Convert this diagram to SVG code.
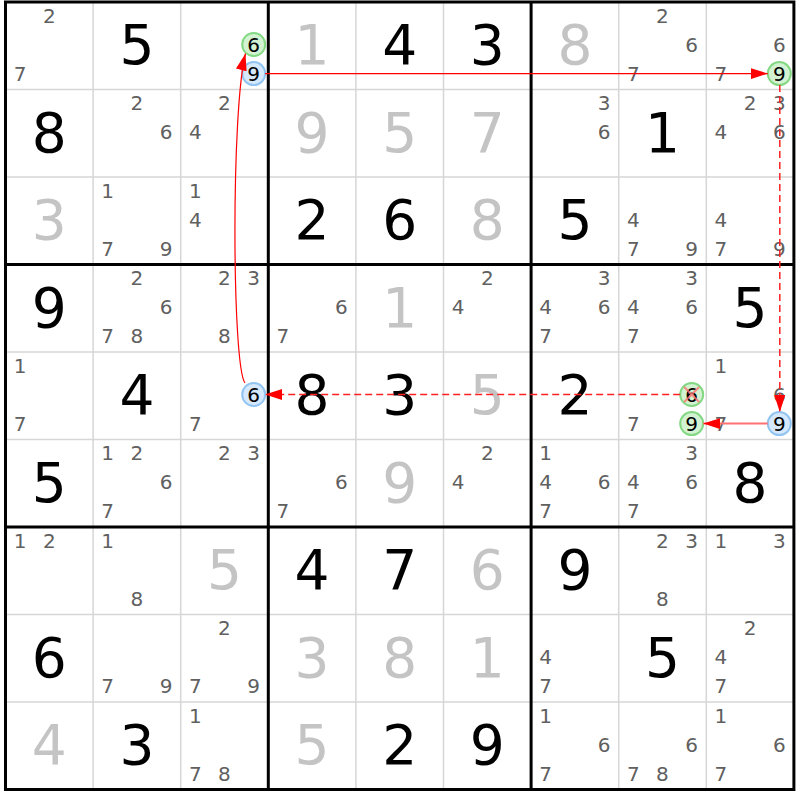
<svg xmlns="http://www.w3.org/2000/svg" width="800" height="800" viewBox="0 0 800 800">
<style>
.c{font-family:"DejaVu Sans",Verdana,sans-serif;font-size:20px;fill:#606060;text-anchor:middle}
.h{font-family:"DejaVu Sans",Verdana,sans-serif;font-size:20px;fill:#000;text-anchor:middle}
.g{font-family:"DejaVu Sans",Verdana,sans-serif;font-size:55px;fill:#000;text-anchor:middle}
.s{font-family:"DejaVu Sans",Verdana,sans-serif;font-size:55px;fill:#c4c4c4;text-anchor:middle}
.gc{fill:#d2f2d2;stroke:#84d884;stroke-width:2}
.bc{fill:#d6e8fb;stroke:#92c4f2;stroke-width:2}
.thin{stroke:#d6d6d6;stroke-width:1.5;fill:none}
.thick{stroke:#000;stroke-width:3;fill:none}
.lk{stroke:#ff0000;stroke-width:1.2;fill:none}
.dl{stroke:#ff2020;stroke-width:1.5;stroke-dasharray:7 4;fill:none}
</style>
<defs>
<marker id="ah" markerWidth="17" markerHeight="11" refX="17" refY="5.5" orient="auto" markerUnits="userSpaceOnUse" viewBox="0 0 17 11"><path d="M0,0L17,5.5L0,11z" fill="#ff0000"/></marker>
</defs>
<rect width="800" height="800" fill="#fff"/>
<g id="grid">
<path class="thin" d="M93.1,2V789.5M180.7,2V789.5M355.9,2V789.5M443.5,2V789.5M618.7,2V789.5M706.3,2V789.5M5.5,89.5H793.9M5.5,177H793.9M5.5,352H793.9M5.5,439.5H793.9M5.5,614.5H793.9M5.5,702H793.9"/>
<path class="thick" d="M268.3,2V789.5M531.1,2V789.5M5.5,264.5H793.9M5.5,527H793.9"/>
<rect class="thick" x="5.5" y="2" width="788.4" height="787.5"/>
</g>
<!-- Row 1 -->
<g id="r1c1" transform="translate(5.5,2)"><text class="c" x="43.8" y="20.6">2</text><text class="c" x="14.6" y="78.9">7</text></g>
<g id="r1c2" transform="translate(93.1,2)"><text class="g" x="43.8" y="62">5</text></g>
<g id="r1c3" transform="translate(180.7,2)"><circle class="gc" cx="73" cy="42.5" r="11.5"/><text class="h" x="73" y="49.75">6</text><circle class="bc" cx="73" cy="71.6" r="11.5"/><text class="h" x="73" y="78.9">9</text></g>
<g id="r1c4" transform="translate(268.3,2)"><text class="s" x="43.8" y="62">1</text></g>
<g id="r1c5" transform="translate(355.9,2)"><text class="g" x="43.8" y="62">4</text></g>
<g id="r1c6" transform="translate(443.5,2)"><text class="g" x="43.8" y="62">3</text></g>
<g id="r1c7" transform="translate(531.1,2)"><text class="s" x="43.8" y="62">8</text></g>
<g id="r1c8" transform="translate(618.7,2)"><text class="c" x="43.8" y="20.6">2</text><text class="c" x="73" y="49.75">6</text><text class="c" x="14.6" y="78.9">7</text></g>
<g id="r1c9" transform="translate(706.3,2)"><text class="c" x="73" y="49.75">6</text><text class="c" x="14.6" y="78.9">7</text><circle class="gc" cx="73" cy="71.6" r="11.5"/><text class="h" x="73" y="78.9">9</text></g>
<!-- Row 2 -->
<g id="r2c1" transform="translate(5.5,89.5)"><text class="g" x="43.8" y="62">8</text></g>
<g id="r2c2" transform="translate(93.1,89.5)"><text class="c" x="43.8" y="20.6">2</text><text class="c" x="73" y="49.75">6</text></g>
<g id="r2c3" transform="translate(180.7,89.5)"><text class="c" x="43.8" y="20.6">2</text><text class="c" x="14.6" y="49.75">4</text></g>
<g id="r2c4" transform="translate(268.3,89.5)"><text class="s" x="43.8" y="62">9</text></g>
<g id="r2c5" transform="translate(355.9,89.5)"><text class="s" x="43.8" y="62">5</text></g>
<g id="r2c6" transform="translate(443.5,89.5)"><text class="s" x="43.8" y="62">7</text></g>
<g id="r2c7" transform="translate(531.1,89.5)"><text class="c" x="73" y="20.6">3</text><text class="c" x="73" y="49.75">6</text></g>
<g id="r2c8" transform="translate(618.7,89.5)"><text class="g" x="43.8" y="62">1</text></g>
<g id="r2c9" transform="translate(706.3,89.5)"><text class="c" x="43.8" y="20.6">2</text><text class="c" x="73" y="20.6">3</text><text class="c" x="14.6" y="49.75">4</text><text class="c" x="73" y="49.75">6</text></g>
<!-- Row 3 -->
<g id="r3c1" transform="translate(5.5,177)"><text class="s" x="43.8" y="62">3</text></g>
<g id="r3c2" transform="translate(93.1,177)"><text class="c" x="14.6" y="20.6">1</text><text class="c" x="14.6" y="78.9">7</text><text class="c" x="73" y="78.9">9</text></g>
<g id="r3c3" transform="translate(180.7,177)"><text class="c" x="14.6" y="20.6">1</text><text class="c" x="14.6" y="49.75">4</text></g>
<g id="r3c4" transform="translate(268.3,177)"><text class="g" x="43.8" y="62">2</text></g>
<g id="r3c5" transform="translate(355.9,177)"><text class="g" x="43.8" y="62">6</text></g>
<g id="r3c6" transform="translate(443.5,177)"><text class="s" x="43.8" y="62">8</text></g>
<g id="r3c7" transform="translate(531.1,177)"><text class="g" x="43.8" y="62">5</text></g>
<g id="r3c8" transform="translate(618.7,177)"><text class="c" x="14.6" y="49.75">4</text><text class="c" x="14.6" y="78.9">7</text><text class="c" x="73" y="78.9">9</text></g>
<g id="r3c9" transform="translate(706.3,177)"><text class="c" x="14.6" y="49.75">4</text><text class="c" x="14.6" y="78.9">7</text><text class="c" x="73" y="78.9">9</text></g>
<!-- Row 4 -->
<g id="r4c1" transform="translate(5.5,264.5)"><text class="g" x="43.8" y="62">9</text></g>
<g id="r4c2" transform="translate(93.1,264.5)"><text class="c" x="43.8" y="20.6">2</text><text class="c" x="73" y="49.75">6</text><text class="c" x="14.6" y="78.9">7</text><text class="c" x="43.8" y="78.9">8</text></g>
<g id="r4c3" transform="translate(180.7,264.5)"><text class="c" x="43.8" y="20.6">2</text><text class="c" x="73" y="20.6">3</text><text class="c" x="43.8" y="78.9">8</text></g>
<g id="r4c4" transform="translate(268.3,264.5)"><text class="c" x="73" y="49.75">6</text><text class="c" x="14.6" y="78.9">7</text></g>
<g id="r4c5" transform="translate(355.9,264.5)"><text class="s" x="43.8" y="62">1</text></g>
<g id="r4c6" transform="translate(443.5,264.5)"><text class="c" x="43.8" y="20.6">2</text><text class="c" x="14.6" y="49.75">4</text></g>
<g id="r4c7" transform="translate(531.1,264.5)"><text class="c" x="73" y="20.6">3</text><text class="c" x="14.6" y="49.75">4</text><text class="c" x="73" y="49.75">6</text><text class="c" x="14.6" y="78.9">7</text></g>
<g id="r4c8" transform="translate(618.7,264.5)"><text class="c" x="73" y="20.6">3</text><text class="c" x="14.6" y="49.75">4</text><text class="c" x="73" y="49.75">6</text><text class="c" x="14.6" y="78.9">7</text></g>
<g id="r4c9" transform="translate(706.3,264.5)"><text class="g" x="43.8" y="62">5</text></g>
<!-- Row 5 -->
<g id="r5c1" transform="translate(5.5,352)"><text class="c" x="14.6" y="20.6">1</text><text class="c" x="14.6" y="78.9">7</text></g>
<g id="r5c2" transform="translate(93.1,352)"><text class="g" x="43.8" y="62">4</text></g>
<g id="r5c3" transform="translate(180.7,352)"><circle class="bc" cx="73" cy="42.5" r="11.5"/><text class="h" x="73" y="49.75">6</text><text class="c" x="14.6" y="78.9">7</text></g>
<g id="r5c4" transform="translate(268.3,352)"><text class="g" x="43.8" y="62">8</text></g>
<g id="r5c5" transform="translate(355.9,352)"><text class="g" x="43.8" y="62">3</text></g>
<g id="r5c6" transform="translate(443.5,352)"><text class="s" x="43.8" y="62">5</text></g>
<g id="r5c7" transform="translate(531.1,352)"><text class="g" x="43.8" y="62">2</text></g>
<g id="r5c8" transform="translate(618.7,352)"><circle class="gc" cx="73" cy="42.5" r="11.5"/><text class="h" x="73" y="49.75">6</text><path d="M65.5,35L80.5,50M80.5,35L65.5,50" stroke="#ff7070" stroke-width="2" opacity="0.8"/><text class="c" x="14.6" y="78.9">7</text><circle class="gc" cx="73" cy="71.6" r="11.5"/><text class="h" x="73" y="78.9">9</text></g>
<g id="r5c9" transform="translate(706.3,352)"><text class="c" x="14.6" y="20.6">1</text><text class="c" x="73" y="49.75">6</text><text class="c" x="14.6" y="78.9">7</text><circle class="bc" cx="73" cy="71.6" r="11.5"/><text class="h" x="73" y="78.9">9</text></g>
<!-- Row 6 -->
<g id="r6c1" transform="translate(5.5,439.5)"><text class="g" x="43.8" y="62">5</text></g>
<g id="r6c2" transform="translate(93.1,439.5)"><text class="c" x="14.6" y="20.6">1</text><text class="c" x="43.8" y="20.6">2</text><text class="c" x="73" y="49.75">6</text><text class="c" x="14.6" y="78.9">7</text></g>
<g id="r6c3" transform="translate(180.7,439.5)"><text class="c" x="43.8" y="20.6">2</text><text class="c" x="73" y="20.6">3</text></g>
<g id="r6c4" transform="translate(268.3,439.5)"><text class="c" x="73" y="49.75">6</text><text class="c" x="14.6" y="78.9">7</text></g>
<g id="r6c5" transform="translate(355.9,439.5)"><text class="s" x="43.8" y="62">9</text></g>
<g id="r6c6" transform="translate(443.5,439.5)"><text class="c" x="43.8" y="20.6">2</text><text class="c" x="14.6" y="49.75">4</text></g>
<g id="r6c7" transform="translate(531.1,439.5)"><text class="c" x="14.6" y="20.6">1</text><text class="c" x="14.6" y="49.75">4</text><text class="c" x="73" y="49.75">6</text><text class="c" x="14.6" y="78.9">7</text></g>
<g id="r6c8" transform="translate(618.7,439.5)"><text class="c" x="73" y="20.6">3</text><text class="c" x="14.6" y="49.75">4</text><text class="c" x="73" y="49.75">6</text><text class="c" x="14.6" y="78.9">7</text></g>
<g id="r6c9" transform="translate(706.3,439.5)"><text class="g" x="43.8" y="62">8</text></g>
<!-- Row 7 -->
<g id="r7c1" transform="translate(5.5,527)"><text class="c" x="14.6" y="20.6">1</text><text class="c" x="43.8" y="20.6">2</text></g>
<g id="r7c2" transform="translate(93.1,527)"><text class="c" x="14.6" y="20.6">1</text><text class="c" x="43.8" y="78.9">8</text></g>
<g id="r7c3" transform="translate(180.7,527)"><text class="s" x="43.8" y="62">5</text></g>
<g id="r7c4" transform="translate(268.3,527)"><text class="g" x="43.8" y="62">4</text></g>
<g id="r7c5" transform="translate(355.9,527)"><text class="g" x="43.8" y="62">7</text></g>
<g id="r7c6" transform="translate(443.5,527)"><text class="s" x="43.8" y="62">6</text></g>
<g id="r7c7" transform="translate(531.1,527)"><text class="g" x="43.8" y="62">9</text></g>
<g id="r7c8" transform="translate(618.7,527)"><text class="c" x="43.8" y="20.6">2</text><text class="c" x="73" y="20.6">3</text><text class="c" x="43.8" y="78.9">8</text></g>
<g id="r7c9" transform="translate(706.3,527)"><text class="c" x="14.6" y="20.6">1</text><text class="c" x="73" y="20.6">3</text></g>
<!-- Row 8 -->
<g id="r8c1" transform="translate(5.5,614.5)"><text class="g" x="43.8" y="62">6</text></g>
<g id="r8c2" transform="translate(93.1,614.5)"><text class="c" x="14.6" y="78.9">7</text><text class="c" x="73" y="78.9">9</text></g>
<g id="r8c3" transform="translate(180.7,614.5)"><text class="c" x="43.8" y="20.6">2</text><text class="c" x="14.6" y="78.9">7</text><text class="c" x="73" y="78.9">9</text></g>
<g id="r8c4" transform="translate(268.3,614.5)"><text class="s" x="43.8" y="62">3</text></g>
<g id="r8c5" transform="translate(355.9,614.5)"><text class="s" x="43.8" y="62">8</text></g>
<g id="r8c6" transform="translate(443.5,614.5)"><text class="s" x="43.8" y="62">1</text></g>
<g id="r8c7" transform="translate(531.1,614.5)"><text class="c" x="14.6" y="49.75">4</text><text class="c" x="14.6" y="78.9">7</text></g>
<g id="r8c8" transform="translate(618.7,614.5)"><text class="g" x="43.8" y="62">5</text></g>
<g id="r8c9" transform="translate(706.3,614.5)"><text class="c" x="43.8" y="20.6">2</text><text class="c" x="14.6" y="49.75">4</text><text class="c" x="14.6" y="78.9">7</text></g>
<!-- Row 9 -->
<g id="r9c1" transform="translate(5.5,702)"><text class="s" x="43.8" y="62">4</text></g>
<g id="r9c2" transform="translate(93.1,702)"><text class="g" x="43.8" y="62">3</text></g>
<g id="r9c3" transform="translate(180.7,702)"><text class="c" x="14.6" y="20.6">1</text><text class="c" x="14.6" y="78.9">7</text><text class="c" x="43.8" y="78.9">8</text></g>
<g id="r9c4" transform="translate(268.3,702)"><text class="s" x="43.8" y="62">5</text></g>
<g id="r9c5" transform="translate(355.9,702)"><text class="g" x="43.8" y="62">2</text></g>
<g id="r9c6" transform="translate(443.5,702)"><text class="g" x="43.8" y="62">9</text></g>
<g id="r9c7" transform="translate(531.1,702)"><text class="c" x="14.6" y="20.6">1</text><text class="c" x="73" y="49.75">6</text><text class="c" x="14.6" y="78.9">7</text></g>
<g id="r9c8" transform="translate(618.7,702)"><text class="c" x="73" y="49.75">6</text><text class="c" x="14.6" y="78.9">7</text><text class="c" x="43.8" y="78.9">8</text></g>
<g id="r9c9" transform="translate(706.3,702)"><text class="c" x="14.6" y="20.6">1</text><text class="c" x="73" y="49.75">6</text><text class="c" x="14.6" y="78.9">7</text></g>
<!-- Connectors -->
<g id="connectors">
<path class="lk" d="M265,73.6H767.8" marker-end="url(#ah)"/>
<path class="dl" d="M779.8,85.1V412.1" marker-end="url(#ah)"/>
<path d="M767.8,423.6H703.2" stroke="#ff7070" stroke-width="2" fill="none" marker-end="url(#ah)"/>
<path class="dl" d="M680.2,394.5H265.2" marker-end="url(#ah)"/>
<path class="lk" d="M245,383C232,366 231,110 245.5,53.5" marker-end="url(#ah)"/>
</g>
</svg>
